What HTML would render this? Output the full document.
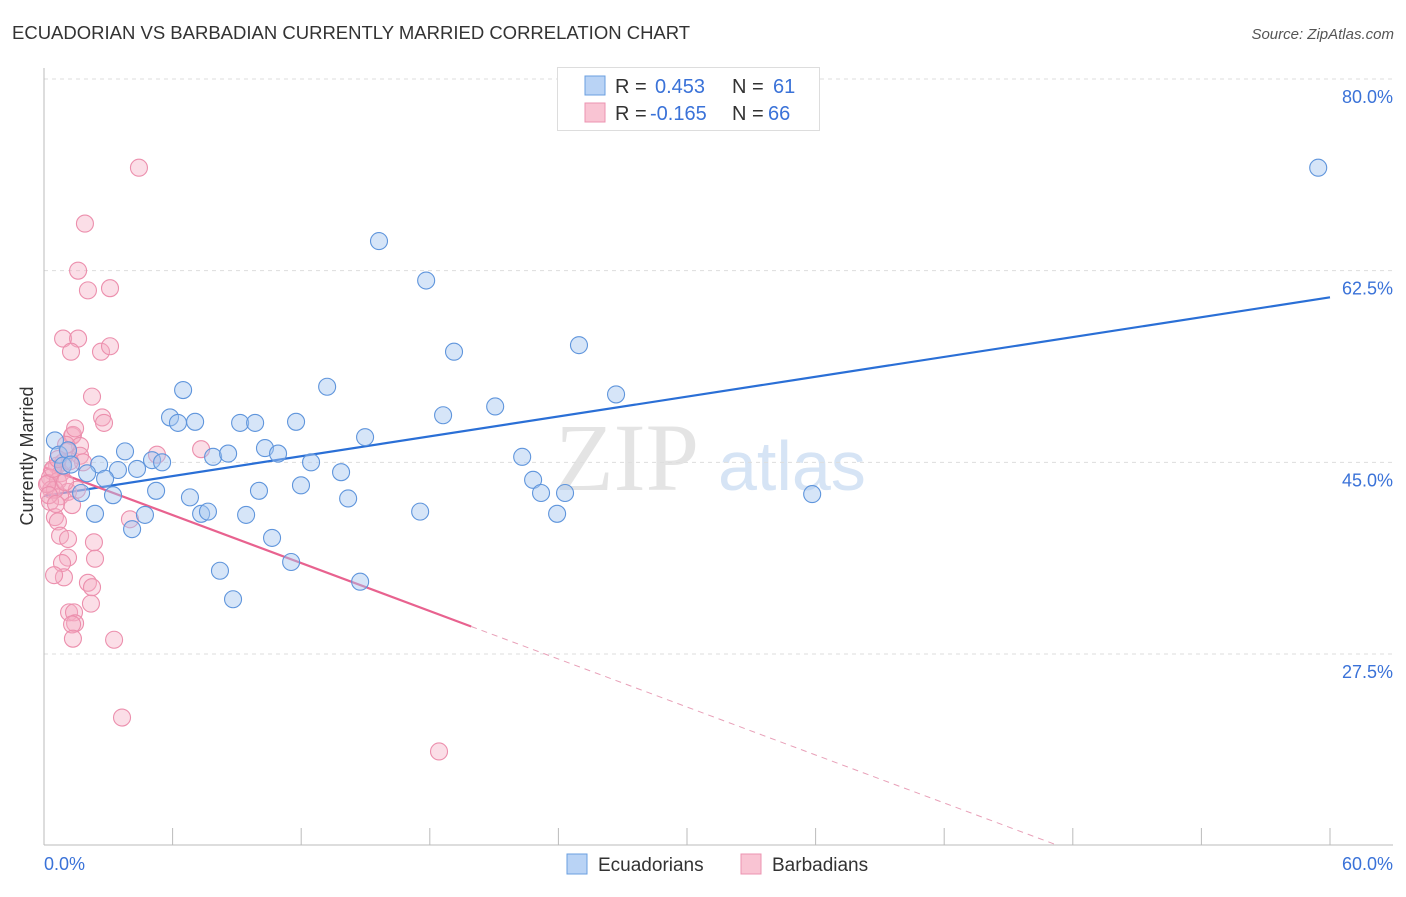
<!DOCTYPE html>
<html><head><meta charset="utf-8"><style>
body{margin:0;background:#fff;font-family:"Liberation Sans",sans-serif}
</style></head><body>
<svg id="chart" width="1406" height="892" viewBox="0 0 1406 892" xmlns="http://www.w3.org/2000/svg" font-family="Liberation Sans, sans-serif">
<text x="12" y="39" font-size="18.5" fill="#333">ECUADORIAN VS BARBADIAN CURRENTLY MARRIED CORRELATION CHART</text>
<text x="1394" y="39" font-size="15" fill="#555" font-style="italic" text-anchor="end">Source: ZipAtlas.com</text>
<g>
<text x="555" y="490" font-size="96" font-family="Liberation Serif, serif" fill="#e4e4e4">ZIP</text>
<text x="718" y="490" font-size="70" fill="#d6e4f5">atlas</text>
</g>
<g id="grid"></g><g id="axes"></g><g id="lines"></g><g id="pts"></g>
<text transform="translate(33,456) rotate(-90)" font-size="18" fill="#333" text-anchor="middle">Currently Married</text>
<g>
<rect x="557.5" y="67.5" width="262" height="63" fill="#fff" stroke="#ddd"/>
<rect x="585" y="76" width="20" height="19" fill="#b9d3f5" stroke="#6a9fe0"/>
<rect x="585" y="103" width="20" height="19" fill="#f9c4d3" stroke="#ec93b0"/>
<text x="615" y="93" font-size="20" fill="#333">R =</text><text x="655" y="93" font-size="20" fill="#3a72d8">0.453</text>
<text x="732" y="93" font-size="20" fill="#333">N =</text><text x="773" y="93" font-size="20" fill="#3a72d8">61</text>
<text x="615" y="120" font-size="20" fill="#333">R =</text><text x="650" y="120" font-size="20" fill="#3a72d8">-0.165</text>
<text x="732" y="120" font-size="20" fill="#333">N =</text><text x="768" y="120" font-size="20" fill="#3a72d8">66</text>
</g>
<g>
<rect x="567" y="854" width="20" height="20" fill="#b9d3f5" stroke="#6a9fe0"/>
<text x="598" y="871" font-size="19" fill="#333">Ecuadorians</text>
<rect x="741" y="854" width="20" height="20" fill="#f9c4d3" stroke="#ec93b0"/>
<text x="772" y="871" font-size="19" fill="#333">Barbadians</text>
</g>
</svg>
<script>
const yTicks=[80,62.5,45,27.5];
const yTickLabels=["80.0%","62.5%","45.0%","27.5%"];
const xTickLabels=["0.0%","60.0%"];
const blueX=[59.45,15.63,17.83,19.13,24.96,26.69,13.21,6.49,18.62,21.05,5.88,6.25,7.05,9.15,9.85,11.76,14.98,0.51,10.31,10.92,3.78,7.89,8.59,5.04,5.51,0.7,1.12,0.89,2.57,3.45,4.34,12.46,13.86,22.31,22.82,2.01,2.85,1.73,3.22,5.23,6.81,10.03,11.99,14.19,23.19,24.31,35.84,2.38,4.71,7.33,7.65,9.43,17.55,23.94,4.11,10.64,8.21,11.53,14.75,8.82,1.26];
const blueY=[71.9,65.2,61.6,55.1,55.7,51.2,51.9,51.6,49.3,50.1,49.1,48.6,48.7,48.6,48.6,48.7,47.3,47.0,46.3,45.8,46.0,45.5,45.8,45.2,45.0,45.7,46.1,44.7,44.8,44.3,44.4,45.0,44.1,45.5,43.4,44.0,43.5,42.2,42.0,42.4,41.8,42.4,42.9,41.7,42.2,42.2,42.1,40.3,40.2,40.3,40.5,40.2,40.5,40.3,38.9,38.1,35.1,35.9,34.1,32.5,44.8];
const pinkX=[4.43,1.91,1.59,2.05,3.08,0.89,1.59,1.26,2.66,3.08,2.24,2.71,2.80,1.31,1.35,1.68,1.12,1.68,0.89,1.82,7.33,5.27,0.61,0.37,0.79,0.28,0.19,0.65,0.33,1.12,1.54,0.75,0.28,1.31,0.51,0.65,4.01,0.75,1.12,2.33,1.12,2.38,0.84,0.93,0.47,2.05,2.24,2.19,1.17,1.4,1.45,1.31,1.35,3.27,3.64,18.43,0.51,0.14,0.98,0.42,1.21,1.03,0.65,0.23,0.56,1.45];
const pinkY=[71.9,66.8,62.5,60.7,60.9,56.3,56.3,55.1,55.1,55.6,51.0,49.1,48.6,47.4,47.5,46.5,46.0,45.6,45.0,45.0,46.2,45.7,44.7,44.2,44.0,43.6,43.1,43.3,42.5,42.3,42.5,41.9,41.4,41.1,40.0,39.6,39.8,38.3,38.0,37.7,36.3,36.2,35.8,34.5,34.7,34.0,33.6,32.1,31.3,31.3,30.3,30.2,28.9,28.8,21.7,18.6,42.5,43.0,43.2,44.4,45.1,46.6,45.3,42.0,41.2,48.1];
const NS="http://www.w3.org/2000/svg";
const X0=44,X1=1330,XMAX=60,YTOP=80,YT=79,YB=654,YBOT=27.5;
const sx=v=>X0+(v/XMAX)*(X1-X0);
const sy=v=>YT+(YTOP-v)/(YTOP-YBOT)*(YB-YT);
function mk(tag,attrs,parent){const e=document.createElementNS(NS,tag);for(const k in attrs)e.setAttribute(k,attrs[k]);parent.appendChild(e);return e;}
const grid=document.getElementById('grid'),axes=document.getElementById('axes'),lines=document.getElementById('lines'),pts=document.getElementById('pts');
yTicks.forEach((t,i)=>{
 const l=mk('line',{x1:X0,x2:1393,y1:sy(t),y2:sy(t),stroke:'#ddd','stroke-dasharray':'4,4'},grid);
 
 
 const tx=mk('text',{x:1393,y:sy(t)+24,'font-size':18,fill:'#3a72d8','text-anchor':'end'},grid);
 tx.textContent=yTickLabels[i];
 
 
});
const ya=mk('line',{x1:X0,x2:X0,y1:68,y2:845,stroke:'#bbb'},axes);


const xa=mk('line',{x1:X0,x2:1393,y1:845,y2:845,stroke:'#bbb'},axes);


for(let v=6;v<=60;v+=6){
 const t=mk('line',{x1:sx(v),x2:sx(v),y1:828,y2:845,stroke:'#bbb'},axes);
 
 
}
[[0,'start',xTickLabels[0]],[60,'end',xTickLabels[1]]].forEach(([v,a,s])=>{
 const t=mk('text',{x:v===0?sx(0):1393,y:870,'font-size':18,fill:'#3a72d8','text-anchor':a},axes);
 t.textContent=s;
 
 
});
function fit(xs,ys){const n=xs.length;let mx=0,my=0;for(let i=0;i<n;i++){mx+=xs[i];my+=ys[i];}mx/=n;my/=n;let a=0,b=0;for(let i=0;i<n;i++){a+=(xs[i]-mx)*(ys[i]-my);b+=(xs[i]-mx)**2;}const m=a/b;return [m,my-m*mx];}
const [bm,bb]=fit(blueX,blueY);
const bl=mk('line',{x1:sx(0),y1:sy(bb),x2:sx(60),y2:sy(bb+bm*60),stroke:'#2a6fd6','stroke-width':2.2},lines);


const [pm,pb]=fit(pinkX,pinkY);
const pxEnd=Math.max(...pinkX.filter(v=>v<30))+1.5;
const pl=mk('line',{x1:sx(0),y1:sy(pb),x2:sx(pxEnd),y2:sy(pb+pm*pxEnd),stroke:'#e8628f','stroke-width':2.2},lines);


const xz=Math.min(60,(10-pb)/pm);
const pd=mk('line',{x1:sx(pxEnd),y1:sy(pb+pm*pxEnd),x2:sx(xz),y2:sy(pb+pm*xz),stroke:'#e8a0b8','stroke-width':1,'stroke-dasharray':'6,5'},lines);


pinkX.forEach((v,i)=>{
 const c=mk('circle',{cx:sx(v),cy:sy(pinkY[i]),r:8.5,fill:'rgba(246,172,195,0.4)',stroke:'#ec8fad','stroke-width':1.1},pts);
 
 
});
blueX.forEach((v,i)=>{
 const c=mk('circle',{cx:sx(v),cy:sy(blueY[i]),r:8.5,fill:'rgba(164,198,240,0.45)',stroke:'#5f95dc','stroke-width':1.1},pts);
 
 
});
</script>
</body></html>
